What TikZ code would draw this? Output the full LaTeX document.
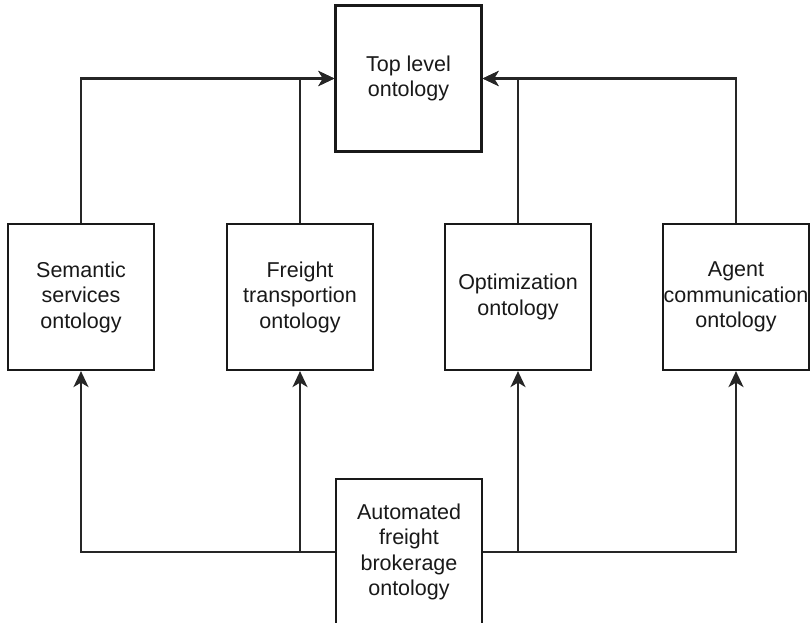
\documentclass[tikz,border=0pt]{standalone}
\usepackage{fontspec}
\setmainfont{Liberation Sans}
\usetikzlibrary{arrows.meta}

\tikzset{
  onto/.style={draw=black!90, line width=2.2pt, rectangle, fill=white,
    minimum width=146pt, minimum height=146pt, inner sep=0pt,
    align=center, text=black!90,
    font=\fontsize{21.5}{25.5}\selectfont},
  link/.style={draw=black!85, line width=2.2pt,
    -{Stealth[length=16pt, width=15pt, inset=4.5pt]}}
}

\begin{document}
\begin{tikzpicture}[x=1pt, y=-1pt]
  \useasboundingbox (0,0) rectangle (810,622);
  \clip (0,0) rectangle (810,622);

  % ontology boxes
  \node[onto] (top) at (408.5,78.5) {Top level\\ontology};
  \node[onto] (sem) at (81,297)    {Semantic\\services\\ontology};
  \node[onto] (fre) at (300,297)   {Freight\\transportion\\ontology};
  \node[onto] (opt) at (518,297)   {Optimization\\ontology};
  \node[onto] (agt) at (736,297)   {Agent\\communication\\ontology};
  \node[onto] (bot) at (409,552)   {Automated\\freight\\brokerage\\ontology};

  % domain ontologies refer to the top level ontology
  \draw[link] (sem.north) |- (top.west);
  \draw[link] (fre.north) |- (top.west);
  \draw[link] (opt.north) |- (top.east);
  \draw[link] (agt.north) |- (top.east);

  % the brokerage ontology imports each domain ontology
  \draw[link] (bot.west) -| (sem.south);
  \draw[link] (bot.west) -| (fre.south);
  \draw[link] (bot.east) -| (opt.south);
  \draw[link] (bot.east) -| (agt.south);
\end{tikzpicture}
\end{document}
